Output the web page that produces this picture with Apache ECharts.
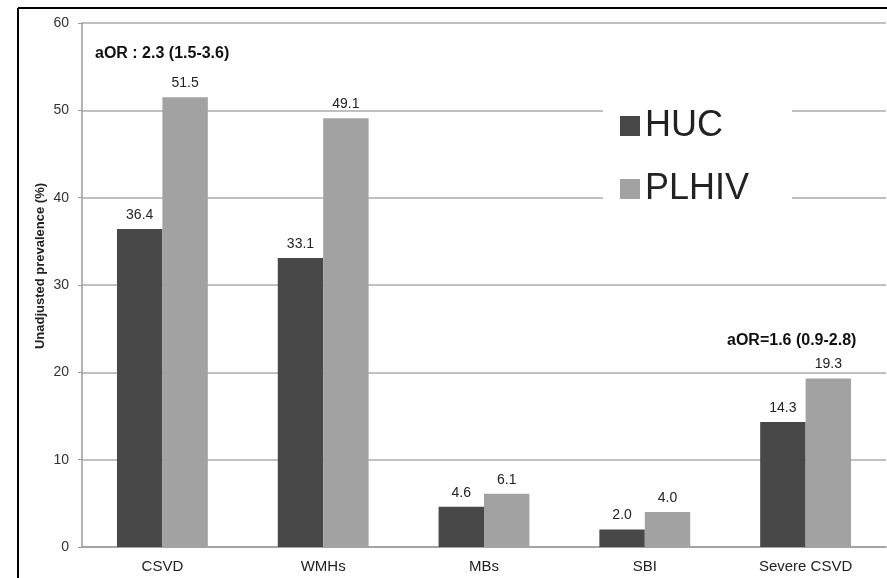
<!DOCTYPE html>
<html>
<head>
<meta charset="utf-8">
<script src="https://cdn.jsdelivr.net/npm/echarts@6/dist/echarts.min.js"></script>
<style>
  html, body { margin: 0; padding: 0; background: #fff; overflow: hidden; }
  #chart { width: 887px; height: 578px; }
</style>
</head>
<body>
<div id="chart"></div>
<script>
// Outcome categories along the x axis
const categories = ['CSVD', 'WMHs', 'MBs', 'SBI', 'Severe CSVD'];
// Unadjusted prevalence (%) per group
const hucValues = [36.4, 33.1, 4.6, 2.0, 14.3];
const plhivValues = [51.5, 49.1, 6.1, 4.0, 19.3];
const seriesNames = ['HUC', 'PLHIV'];
// Y axis range and step
const yMin = 0, yMax = 60, yStep = 10;
// Odds-ratio annotations
const aorMain = 'aOR : 2.3 (1.5-3.6)';
const aorSevere = 'aOR=1.6 (0.9-2.8)';
const yTitle = 'Unadjusted prevalence (%)';

const FONT = '"Liberation Sans", Arial, sans-serif';
const chart = echarts.init(document.getElementById('chart'), null, { renderer: 'canvas' });

const labelStyle = {
  show: true,
  position: 'top',
  distance: 7,
  color: '#222',
  fontSize: 14,
  fontFamily: FONT,
  formatter: p => p.value.toFixed(1)
};

chart.setOption({
  animation: false,
  backgroundColor: '#fff',
  textStyle: { fontFamily: FONT },
  grid: { left: 82, right: 1, top: 23, bottom: 31, containLabel: false },
  legend: {
    data: seriesNames,
    orient: 'vertical',
    left: 603,
    top: 95,
    backgroundColor: '#fff',
    padding: [11, 43, 17, 17],
    itemGap: 23,
    itemWidth: 20,
    itemHeight: 20,
    icon: 'rect',
    textStyle: { fontSize: 36, color: '#222', fontFamily: FONT, lineHeight: 40 }
  },
  xAxis: {
    type: 'category',
    data: categories,
    axisLine: { show: true, lineStyle: { color: '#9a9a9a', width: 1.5 } },
    axisTick: { show: false },
    axisLabel: { color: '#222', fontSize: 15, margin: 12, fontFamily: FONT }
  },
  yAxis: {
    type: 'value',
    min: yMin,
    max: yMax,
    interval: yStep,
    axisLine: { show: true, lineStyle: { color: '#9a9a9a', width: 1.5 } },
    axisTick: { show: true, length: 4, lineStyle: { color: '#9a9a9a' } },
    axisLabel: { color: '#333', fontSize: 14, margin: 13, fontFamily: FONT },
    splitLine: { show: true, lineStyle: { color: '#ababab', width: 1.5 } }
  },
  series: [
    {
      name: seriesNames[0],
      type: 'bar',
      data: hucValues,
      barGap: '0%',
      barCategoryGap: '43.5%',
      itemStyle: { color: '#484848' },
      label: labelStyle
    },
    {
      name: seriesNames[1],
      type: 'bar',
      data: plhivValues,
      itemStyle: { color: '#a2a2a2' },
      label: labelStyle
    }
  ],
  graphic: [
    // frame edges
    { type: 'line', shape: { x1: 18, y1: 8, x2: 887, y2: 8 }, style: { stroke: '#000', lineWidth: 2 }, z: 100 },
    { type: 'line', shape: { x1: 18, y1: 8, x2: 18, y2: 578 }, style: { stroke: '#000', lineWidth: 2 }, z: 100 },
    // y axis title
    {
      type: 'text', x: 40, y: 266, rotation: Math.PI / 2,
      style: { text: yTitle, fontSize: 13, fontWeight: 'bold', fill: '#222', fontFamily: FONT, align: 'center', verticalAlign: 'middle' }
    },
    {
      type: 'text', x: 95, y: 54,
      style: { text: aorMain, fontSize: 16, fontWeight: 'bold', fill: '#111', fontFamily: FONT, align: 'left', verticalAlign: 'middle' }
    },
    {
      type: 'text', x: 727, y: 341,
      style: { text: aorSevere, fontSize: 16, fontWeight: 'bold', fill: '#111', fontFamily: FONT, align: 'left', verticalAlign: 'middle' }
    }
  ]
});
</script>
</body>
</html>
